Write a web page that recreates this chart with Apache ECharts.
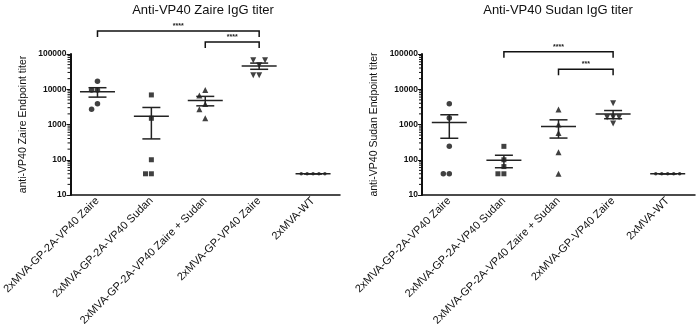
<!DOCTYPE html>
<html>
<head>
<meta charset="utf-8">
<script src="https://cdn.jsdelivr.net/npm/echarts@6/dist/echarts.min.js"></script>
<style>
  html, body { margin: 0; padding: 0; background: #fff; }
  #chart { width: 696px; height: 329px; }
</style>
</head>
<body>
<div id="chart"></div>
<script>
const groups = [
  '2xMVA-GP-2A-VP40 Zaire',
  '2xMVA-GP-2A-VP40 Sudan',
  '2xMVA-GP-2A-VP40 Zaire + Sudan',
  '2xMVA-GP-VP40 Zaire',
  '2xMVA-WT',
]
const yTicks = [10, 100, 1000, 10000, 100000]

// endpoint titers per animal
const zaireTiters = [
  [17000, 9500, 9500, 3900, 2700],
  [6900, 1500, 100, 40, 40],
  [9500, 6650, 3800, 2700, 1500],
  [48000, 66000, 66000, 25000, 25000],
  [40, 40, 40, 40, 40],
]
const sudanTiters = [
  [3900, 1520, 240, 40, 40],
  [240, 100, 64, 40, 40],
  [2650, 1000, 570, 163, 40],
  [4000, 1070, 1600, 1600, 1600],
  [40, 40, 40, 40, 40],
]

// [from group, to group, bracket level (titer units), label]
const zaireBrackets = [[0, 3, 450000, '****'], [2, 3, 220000, '****']]
const sudanBrackets = [[1, 3, 116000, '****'], [2, 3, 37000, '***']]

const FONT = '"Liberation Sans", Arial, sans-serif'
const INK = '#111'
const PLOT_W = 274
const PLOT_H = 141
const PX_PER_DEC = PLOT_H / 4
const PX_PER_BAND = PLOT_W / 5
const STEP = 6
const HIT = 6

const symbols = ['circle', 'rect', 'triangle', 'triangle', 'circle']
const symbolSizes = [5.5, 5, 6, 6, 3.5]
const symbolRot = [0, 0, 0, 180, 0]

// graphpad-ish horizontal spreading of overlapping points
function spread(vals) {
  const placed = []
  return vals.map((v) => {
    const y = Math.log10(v) * PX_PER_DEC
    for (const k of [0, -1, 1, -2, 2, -3, 3]) {
      const x = k * STEP
      if (placed.every((p) => Math.hypot(p[0] - x, p[1] - y) >= HIT)) {
        placed.push([x, y])
        return x / PX_PER_BAND
      }
    }
    return 0
  })
}

function meanSem(vals) {
  const n = vals.length
  const m = vals.reduce((a, b) => a + b, 0) / n
  const sd = Math.sqrt(vals.reduce((a, b) => a + (b - m) * (b - m), 0) / (n - 1))
  const sem = sd / Math.sqrt(n)
  return [m, m + sem, Math.max(m - sem, 1e-9)]
}

function minorTickData() {
  const out = []
  for (let d = 10; d < 100000; d *= 10) {
    for (let k = 2; k <= 9; k++) out.push([0, k * d])
  }
  return out
}

function panelSeries(titers, brackets, xIdx, yIdx) {
  const out = []
  titers.forEach((vals, g) => {
    const offs = spread(vals)
    out.push({
      type: 'scatter',
      xAxisIndex: xIdx,
      yAxisIndex: yIdx,
      symbol: symbols[g],
      symbolSize: symbolSizes[g],
      symbolRotate: symbolRot[g],
      itemStyle: { color: INK },
      silent: true,
      z: 3,
      data: vals.map((v, i) => [g + 0.5 + offs[i], v]),
    })
  })
  // mean +/- SEM
  out.push({
    type: 'custom',
    xAxisIndex: xIdx,
    yAxisIndex: yIdx,
    silent: true,
    clip: false,
    z: 4,
    data: titers.map((vals, g) => [g + 0.5, ...meanSem(vals)]),
    renderItem: (params, api) => {
      const c = api.coord([api.value(0), api.value(1)])
      const hi = api.coord([api.value(0), api.value(2)])
      const lo = api.coord([api.value(0), api.value(3)])
      const st = { stroke: '#222', lineWidth: 1.5 }
      return {
        type: 'group',
        children: [
          { type: 'line', shape: { x1: c[0] - 17.5, y1: c[1], x2: c[0] + 17.5, y2: c[1] }, style: st },
          { type: 'line', shape: { x1: c[0], y1: hi[1], x2: c[0], y2: lo[1] }, style: st },
          { type: 'line', shape: { x1: c[0] - 9, y1: hi[1], x2: c[0] + 9, y2: hi[1] }, style: st },
          { type: 'line', shape: { x1: c[0] - 9, y1: lo[1], x2: c[0] + 9, y2: lo[1] }, style: st },
        ],
      }
    },
  })
  // significance brackets
  out.push({
    type: 'custom',
    xAxisIndex: xIdx,
    yAxisIndex: yIdx,
    silent: true,
    clip: false,
    data: brackets.map((b) => [b[0] + 0.5, b[1] + 0.5, b[2]]),
    renderItem: (params, api) => {
      const a = api.coord([api.value(0), api.value(2)])
      const b = api.coord([api.value(1), api.value(2)])
      const label = brackets[params.dataIndex][3]
      return {
        type: 'group',
        children: [
          {
            type: 'polyline',
            shape: { points: [[a[0], a[1] + 6], [a[0], a[1]], [b[0], a[1]], [b[0], a[1] + 6]] },
            style: { stroke: '#111', lineWidth: 1.5, fill: null },
          },
          {
            type: 'text',
            x: (a[0] + b[0]) / 2,
            y: a[1] - 1.5,
            style: {
              text: label, fill: '#222', font: 'bold 7px ' + FONT,
              textAlign: 'center', textVerticalAlign: 'bottom',
            },
          },
        ],
      }
    },
  })
  // log minor ticks on the y axis
  out.push({
    type: 'custom',
    xAxisIndex: xIdx,
    yAxisIndex: yIdx,
    silent: true,
    clip: false,
    data: minorTickData(),
    renderItem: (params, api) => {
      const p = api.coord([0, api.value(1)])
      return {
        type: 'line',
        shape: { x1: p[0] - 3, y1: p[1], x2: p[0], y2: p[1] },
        style: { stroke: '#111', lineWidth: 1 },
      }
    },
  })
  return out
}

function catAxis(gridIndex) {
  return {
    type: 'category',
    gridIndex,
    data: groups,
    axisLine: { lineStyle: { color: INK, width: 1.5 } },
    axisTick: { alignWithLabel: true, length: 4, lineStyle: { color: INK, width: 1 } },
    axisLabel: { rotate: 45, interval: 0, fontSize: 11, fontFamily: FONT, color: INK, margin: 4 },
  }
}

function valAxis(gridIndex) {
  return { type: 'value', gridIndex, min: 0, max: 5, show: false }
}

function logAxis(gridIndex, name) {
  return {
    type: 'log',
    gridIndex,
    logBase: 10,
    min: yTicks[0],
    max: yTicks[yTicks.length - 1],
    name,
    nameLocation: 'middle',
    nameGap: 42,
    nameTextStyle: { fontSize: 10.5, fontFamily: FONT, color: INK },
    axisLine: { show: true, lineStyle: { color: INK, width: 2 } },
    axisTick: { length: 4, lineStyle: { color: INK, width: 1 } },
    axisLabel: {
      fontSize: 8.5, fontWeight: 'bold', fontFamily: FONT, color: INK, margin: 4,
      formatter: (v) => String(Math.round(v)),
    },
    splitLine: { show: false },
  }
}

const chart = echarts.init(document.getElementById('chart'), null, { renderer: 'canvas' })
chart.setOption({
  animation: false,
  backgroundColor: '#fff',
  title: [
    {
      text: 'Anti-VP40 Zaire IgG titer', left: 198, top: -1, textAlign: 'center',
      textStyle: { fontSize: 13, fontWeight: 'normal', fontFamily: FONT, color: INK },
    },
    {
      text: 'Anti-VP40 Sudan IgG titer', left: 553, top: -1, textAlign: 'center',
      textStyle: { fontSize: 13, fontWeight: 'normal', fontFamily: FONT, color: INK },
    },
  ],
  grid: [
    { left: 66, top: 54, width: PLOT_W, height: PLOT_H },
    { left: 422, top: 54, width: PLOT_W - 1, height: PLOT_H },
  ],
  xAxis: [catAxis(0), valAxis(0), catAxis(1), valAxis(1)],
  yAxis: [
    logAxis(0, 'anti-VP40 Zaire Endpoint titer'),
    logAxis(1, 'anti-VP40 Sudan Endpoint titer'),
  ],
  series: [
    ...panelSeries(zaireTiters, zaireBrackets, 1, 0),
    ...panelSeries(sudanTiters, sudanBrackets, 3, 1),
  ],
})
</script>
</body>
</html>
